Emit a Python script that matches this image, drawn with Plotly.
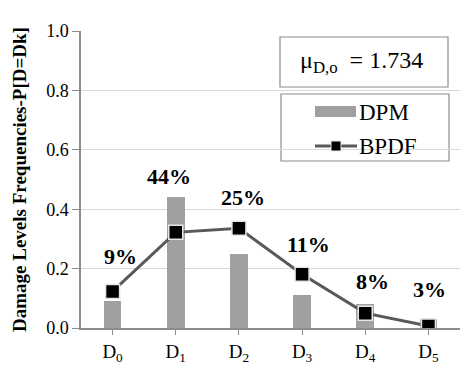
import plotly.graph_objects as go

# Damage levels and their frequencies
levels = ["D<sub>0</sub>", "D<sub>1</sub>", "D<sub>2</sub>", "D<sub>3</sub>", "D<sub>4</sub>", "D<sub>5</sub>"]
dpm = [0.09, 0.44, 0.25, 0.11, 0.08, 0.03]
bpdf = [0.123, 0.322, 0.336, 0.181, 0.050, 0.007]
pct_labels = ["9%", "44%", "25%", "11%", "8%", "3%"]
# label placement offsets (category units, value units)
label_dx = [0.12, -0.1, 0.07, 0.1, 0.11, 0.02]
label_y = [0.24, 0.51, 0.44, 0.28, 0.155, 0.13]
y_ticks = [0.0, 0.2, 0.4, 0.6, 0.8, 1.0]
mean_damage = 1.734

FONT = "Liberation Serif"
AXIS_GREY = "#8c8c8c"
BAR_GREY = "#a0a0a0"
LINE_GREY = "#595959"

W, H = 461, 365
ML, MR, MT, MB = 81, 1, 31, 37
PW, PH = W - ML - MR, H - MT - MB


def px(x):
    return (x - ML) / PW


def py(y):
    return (H - MB - y) / PH


fig = go.Figure()
fig.add_trace(go.Bar(
    x=list(range(len(levels))), y=dpm, width=0.28,
    marker=dict(color=BAR_GREY, line=dict(width=0)),
    name="DPM", showlegend=False,
))
fig.add_trace(go.Scatter(
    x=list(range(len(levels))), y=bpdf, mode="lines+markers",
    line=dict(color=LINE_GREY, width=3),
    marker=dict(symbol="square", size=14, color="black", line=dict(color="#e6e6e6", width=1.5)),
    name="BPDF", showlegend=False,
))

annotations = []
for i, (lab, dx, yy) in enumerate(zip(pct_labels, label_dx, label_y)):
    annotations.append(dict(
        x=i + dx, y=yy, xref="x", yref="y", text=f"<b>{lab}</b>", showarrow=False,
        xanchor="center", yanchor="middle",
        font=dict(family=FONT, size=22, color="black"),
    ))


def paper_text(x, y, text, size, anchor="center", angle=0):
    return dict(
        x=px(x), y=py(y), xref="paper", yref="paper", showarrow=False,
        xanchor=anchor, yanchor="middle", textangle=angle, text=text,
        font=dict(family=FONT, size=size, color="black"),
    )


# y-axis title
annotations.append(paper_text(19, 180, "<b>Damage Levels Frequencies-P[D=Dk]</b>", 19, angle=-90))
# mean damage box
annotations.append(paper_text(361, 62, f"μ<sub>D,o</sub>&nbsp;&nbsp;= {mean_damage:.3f}", 24))
# legend texts
annotations.append(paper_text(357, 112, "DPM", 23, anchor="left"))
annotations.append(paper_text(357, 146, "BPDF", 23, anchor="left"))

shapes = [
    # mean box
    dict(type="rect", xref="paper", yref="paper", x0=px(280), x1=px(448), y0=py(87), y1=py(37),
         line=dict(color=AXIS_GREY, width=1.2), fillcolor="white", layer="below"),
    # legend box
    dict(type="rect", xref="paper", yref="paper", x0=px(281), x1=px(449), y0=py(161), y1=py(94),
         line=dict(color=AXIS_GREY, width=1.2), fillcolor="white", layer="below"),
    # legend swatch: bar
    dict(type="rect", xref="paper", yref="paper", x0=px(315), x1=px(356), y0=py(117), y1=py(106),
         line=dict(width=0), fillcolor=BAR_GREY, layer="above"),
    # legend swatch: line
    dict(type="line", xref="paper", yref="paper", x0=px(315), x1=px(357), y0=py(146), y1=py(146),
         line=dict(color=LINE_GREY, width=3), layer="above"),
    dict(type="rect", xref="paper", yref="paper", x0=px(331), x1=px(341), y0=py(151), y1=py(141),
         line=dict(color="#e6e6e6", width=1), fillcolor="black", layer="above"),
]

fig.update_layout(
    width=W, height=H,
    margin=dict(l=ML, r=MR, t=MT, b=MB, autoexpand=False),
    paper_bgcolor="white", plot_bgcolor="white",
    showlegend=False,
    bargap=0,
    annotations=annotations,
    shapes=shapes,
    font=dict(family=FONT, color="black"),
    xaxis=dict(
        range=[-0.5, 5.5], tickmode="array", tickvals=list(range(len(levels))), ticktext=levels,
        tickson="boundaries", ticks="outside", ticklen=5, tickcolor=AXIS_GREY,
        showline=True, linecolor=AXIS_GREY, linewidth=1.5, showgrid=False, zeroline=False,
        tickfont=dict(family=FONT, size=19, color="black"), fixedrange=True, automargin=False,
    ),
    yaxis=dict(
        range=[0, 1.0], tickmode="array", tickvals=y_ticks, ticktext=[f"{v:.1f}" for v in y_ticks],
        ticks="outside", ticklen=7, tickcolor=AXIS_GREY,
        showline=True, linecolor=AXIS_GREY, linewidth=1.5,
        showgrid=True, gridcolor="#d9d9d9", gridwidth=1, zeroline=False,
        tickfont=dict(family=FONT, size=18, color="black"), fixedrange=True, automargin=False,
    ),
)

fig.write_html("out.html")
